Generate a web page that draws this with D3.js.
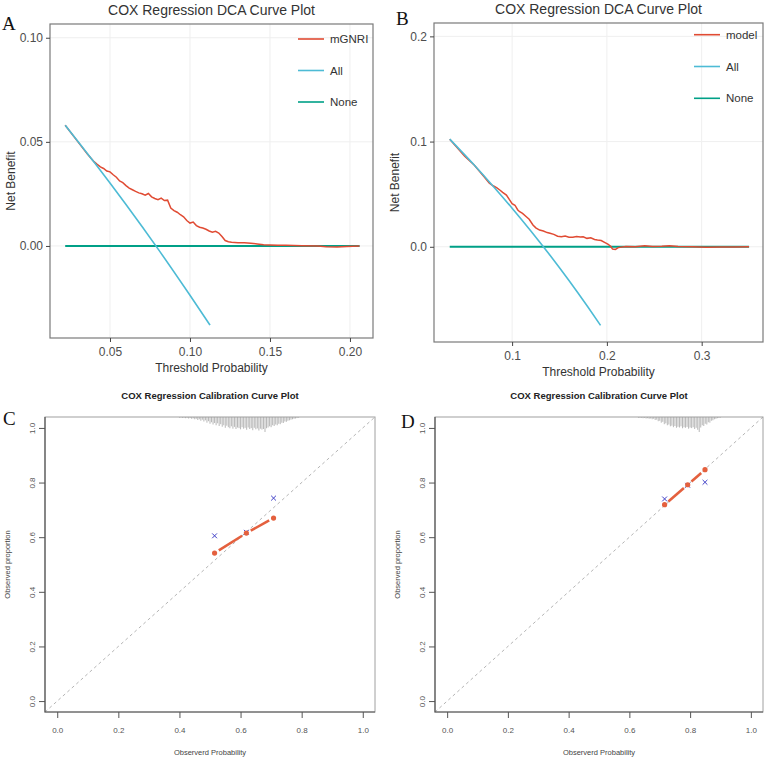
<!DOCTYPE html>
<html>
<head>
<meta charset="utf-8">
<script src="https://cdn.jsdelivr.net/npm/d3@7"></script>
<style>
  body { margin: 0; background: #fff; }
  svg { display: block; font-family: "Liberation Sans", Arial, sans-serif; }
</style>
</head>
<body>
<svg id="chart" width="767" height="759"></svg>
<script>
// ---------- panel A : DCA, mGNRI ----------
var aThreshold = [0.022, 0.030, 0.036, 0.040, 0.042, 0.044, 0.046, 0.048, 0.050, 0.052, 0.054, 0.056, 0.058, 0.060,
  0.062, 0.064, 0.066, 0.068, 0.070, 0.072, 0.074, 0.076, 0.078, 0.080, 0.082, 0.084, 0.086, 0.088, 0.090, 0.092,
  0.094, 0.096, 0.098, 0.100, 0.102, 0.104, 0.106, 0.108, 0.110, 0.112, 0.114, 0.116, 0.118, 0.120, 0.122, 0.124,
  0.126, 0.130, 0.134, 0.138, 0.142, 0.146, 0.150, 0.155, 0.160, 0.170, 0.180, 0.185, 0.192, 0.198, 0.206]
var aModel = [0.0580, 0.0500, 0.0440, 0.0405, 0.0392, 0.0380, 0.0372, 0.0360, 0.0356, 0.0342, 0.0330, 0.0312, 0.0304, 0.0290,
  0.0278, 0.0270, 0.0262, 0.0255, 0.0251, 0.0244, 0.0252, 0.0236, 0.0228, 0.0222, 0.0230, 0.0218, 0.0220, 0.0182, 0.0170, 0.0162,
  0.0150, 0.0140, 0.0122, 0.0110, 0.0115, 0.0098, 0.0090, 0.0086, 0.0080, 0.0072, 0.0066, 0.0070, 0.0062, 0.0045, 0.0026, 0.0020,
  0.0018, 0.0016, 0.0015, 0.0013, 0.0010, 0.0006, 0.0005, 0.0004, 0.0003, 0.0001, 0.0000, -0.0004, -0.0005, -0.0002, 0.0000]
var aAllThreshold = [0.022, 0.04, 0.06, 0.08, 0.10, 0.1125]
var aAll = [0.058, 0.0403, 0.0199, -0.0014, -0.0237, -0.038]
var aNoneRange = [0.022, 0.206]
var aXTicks = [0.05, 0.10, 0.15, 0.20]
var aYTicks = [0.00, 0.05, 0.10]

// ---------- panel B : DCA, model ----------
var bThreshold = [0.0342, 0.050, 0.060, 0.070, 0.076, 0.080, 0.084, 0.087, 0.090, 0.094, 0.097, 0.100, 0.103, 0.106,
  0.108, 0.111, 0.115, 0.118, 0.122, 0.125, 0.129, 0.133, 0.137, 0.140, 0.144, 0.148, 0.152, 0.156, 0.160, 0.164,
  0.168, 0.172, 0.175, 0.179, 0.183, 0.187, 0.190, 0.194, 0.198, 0.201, 0.204, 0.206, 0.209, 0.212, 0.220, 0.230,
  0.240, 0.248, 0.258, 0.266, 0.275, 0.290, 0.305, 0.320, 0.335, 0.350]
var bModel = [0.1023, 0.0860, 0.0777, 0.0670, 0.0604, 0.0580, 0.0560, 0.0540, 0.0518, 0.0492, 0.0450, 0.0410, 0.0395, 0.0350,
  0.0333, 0.0318, 0.0286, 0.0262, 0.0207, 0.0180, 0.0159, 0.0150, 0.0135, 0.0128, 0.0118, 0.0100, 0.0095, 0.0102, 0.0090, 0.0090,
  0.0098, 0.0092, 0.0095, 0.0080, 0.0085, 0.0070, 0.0064, 0.0060, 0.0040, 0.0025, 0.0005, -0.0022, -0.0025, -0.0008, 0.0002, 0.0000,
  0.0010, 0.0002, 0.0004, 0.0010, 0.0003, 0.0000, -0.0004, -0.0003, -0.0002, 0.0000]
var bAllThreshold = [0.0342, 0.06, 0.08, 0.10, 0.12, 0.14, 0.16, 0.18, 0.1933]
var bAll = [0.1023, 0.0777, 0.0576, 0.0367, 0.0148, -0.0081, -0.0321, -0.0573, -0.0747]
var bNoneRange = [0.0342, 0.350]
var bXTicks = [0.1, 0.2, 0.3]
var bYTicks = [0.0, 0.1, 0.2]

// ---------- panel C : calibration ----------
var cPredicted = [0.515, 0.619, 0.708]
var cObserved = [0.542, 0.615, 0.670]
var cCorrected = [0.605, 0.618, 0.743]
var cRugX = [0.400, 0.405, 0.410, 0.415, 0.420, 0.425, 0.430, 0.435, 0.440, 0.445, 0.450, 0.455, 0.460, 0.465, 0.470,
  0.475, 0.480, 0.485, 0.490, 0.495, 0.500, 0.505, 0.510, 0.515, 0.520, 0.525, 0.530, 0.535, 0.540, 0.545, 0.550,
  0.555, 0.560, 0.565, 0.570, 0.575, 0.580, 0.585, 0.590, 0.595, 0.600, 0.605, 0.610, 0.615, 0.620, 0.625, 0.630,
  0.635, 0.640, 0.645, 0.650, 0.655, 0.660, 0.665, 0.670, 0.675, 0.680, 0.685, 0.690, 0.695, 0.700, 0.705, 0.710,
  0.715, 0.720, 0.725, 0.730, 0.735, 0.740, 0.745, 0.750, 0.755, 0.760, 0.765, 0.770, 0.775, 0.780, 0.785, 0.790]
var cRugFreq = [.05, .04, .06, .05, .08, .06, .10, .07, .12, .09, .15, .12, .20, .15, .25,
  .18, .30, .22, .38, .28, .45, .35, .50, .40, .55, .42, .60, .48, .65, .55, .72,
  .58, .68, .75, .62, .78, .66, .80, .70, .74, .82, .68, .78, .72, .85, .70, .80,
  .74, .88, .72, .82, .76, .90, .78, .84, .80, 1.0, .75, .70, .62, .68, .55, .60,
  .50, .55, .45, .48, .38, .40, .30, .32, .25, .22, .18, .15, .12, .10, .07, .05]

// ---------- panel D : calibration ----------
var dPredicted = [0.716, 0.792, 0.849]
var dObserved = [0.719, 0.792, 0.847]
var dCorrected = [0.740, 0.790, 0.801]
var dRugX = [0.630, 0.635, 0.640, 0.645, 0.650, 0.655, 0.660, 0.665, 0.670, 0.675, 0.680, 0.685, 0.690, 0.695,
  0.700, 0.705, 0.710, 0.715, 0.720, 0.725, 0.730, 0.735, 0.740, 0.745, 0.750, 0.755, 0.760, 0.765, 0.770,
  0.775, 0.780, 0.785, 0.790, 0.795, 0.800, 0.805, 0.810, 0.815, 0.820, 0.825, 0.830, 0.835, 0.840, 0.845,
  0.850, 0.855, 0.860, 0.865, 0.870, 0.875, 0.880, 0.885, 0.890, 0.895, 0.900]
var dRugFreq = [.05, .06, .05, .08, .06, .10, .08, .12, .10, .15, .12, .20, .18, .28,
  .25, .38, .32, .48, .42, .55, .50, .62, .58, .68, .60, .72, .65, .70, .62,
  .75, .68, .72, .66, .78, .70, .74, .68, .80, .72, .85, 1.0, .70, .55, .60,
  .45, .50, .35, .38, .25, .22, .15, .12, .08, .06, .04]

var calTicks = [0, 0.2, 0.4, 0.6, 0.8, 1.0]

// npg-like colours
var colModel = "#E04B33", colAll = "#4DBBD5", colNone = "#00A087"

var svg = d3.select("#chart")
svg.append("rect").attr("width", 767).attr("height", 759).attr("fill", "#fff")

function drawDca(p) {
  var x = d3.scaleLinear().domain(p.xDomain).range([p.box[0], p.box[2]])
  var y = d3.scaleLinear().domain(p.yDomain).range([p.box[3], p.box[1]])
  var g = svg.append("g")

  // grid
  g.selectAll(".vg").data(p.xTicks).join("line")
    .attr("x1", d => x(d)).attr("x2", d => x(d))
    .attr("y1", p.box[1]).attr("y2", p.box[3])
    .attr("stroke", "#efefef")
  g.selectAll(".hg").data(p.yTicks).join("line")
    .attr("y1", d => y(d)).attr("y2", d => y(d))
    .attr("x1", p.box[0]).attr("x2", p.box[2])
    .attr("stroke", "#efefef")

  // lines
  var line = d3.line().x(d => x(d[0])).y(d => y(d[1]))
  g.append("path").datum(p.noneRange.map(t => [t, 0]))
    .attr("d", line).attr("fill", "none").attr("stroke", colNone).attr("stroke-width", 2)
  g.append("path").datum(d3.zip(p.threshold, p.model))
    .attr("d", line).attr("fill", "none").attr("stroke", colModel).attr("stroke-width", 1.5)
  g.append("path").datum(d3.zip(p.allThreshold, p.all))
    .attr("d", line.curve(d3.curveMonotoneX)).attr("fill", "none").attr("stroke", colAll).attr("stroke-width", 1.6)

  // frame
  g.append("rect")
    .attr("x", p.box[0]).attr("y", p.box[1])
    .attr("width", p.box[2] - p.box[0]).attr("height", p.box[3] - p.box[1])
    .attr("fill", "none").attr("stroke", "#7a7a7a").attr("stroke-width", 1.2)

  // axes
  var ax = g.append("g").attr("transform", "translate(0," + p.box[3] + ")")
    .call(d3.axisBottom(x).tickValues(p.xTicks).tickFormat(d3.format(p.fmt)).tickSize(4).tickPadding(5).tickSizeOuter(0))
  var ay = g.append("g").attr("transform", "translate(" + p.box[0] + ",0)")
    .call(d3.axisLeft(y).tickValues(p.yTicks).tickFormat(d3.format(p.fmt)).tickSize(4).tickPadding(3).tickSizeOuter(0))
  ;[ax, ay].forEach(function(a) {
    a.select(".domain").remove()
    a.selectAll("line").attr("stroke", "#444")
    a.selectAll("text").attr("fill", "#4d4d4d").style("font-size", "12px").style("font-family", "Liberation Sans, Arial, sans-serif")
  })

  // titles
  var cx = (p.box[0] + p.box[2]) / 2
  g.append("text").attr("x", cx).attr("y", p.box[1] - 9)
    .attr("text-anchor", "middle").attr("fill", "#333").style("font-size", "14px")
    .text("COX Regression DCA Curve Plot")
  g.append("text").attr("x", cx).attr("y", p.box[3] + 34)
    .attr("text-anchor", "middle").attr("fill", "#333").style("font-size", "12px")
    .text("Threshold Probability")
  g.append("text")
    .attr("transform", "translate(" + (p.box[0] - 35) + "," + ((p.box[1] + p.box[3]) / 2) + ") rotate(-90)")
    .attr("text-anchor", "middle").attr("fill", "#333").style("font-size", "12px")
    .text("Net Benefit")

  // legend
  var keys = [p.modelName, "All", "None"]
  var cols = [colModel, colAll, colNone]
  var leg = g.selectAll(".leg").data(keys).join("g")
    .attr("transform", (d, i) => "translate(" + p.legend[0] + "," + (p.legend[1] + i * p.legend[2]) + ")")
  leg.append("line").attr("x1", 0).attr("x2", 26).attr("stroke", (d, i) => cols[i]).attr("stroke-width", 1.6)
  leg.append("text").attr("x", 32).attr("dy", "0.35em").attr("fill", "#333").style("font-size", "11.5px").text(d => d)

  // panel letter
  g.append("text").attr("x", p.letter[0]).attr("y", p.letter[1])
    .style("font-family", "Liberation Serif, Times New Roman, serif").style("font-size", "19px").attr("fill", "#111")
    .text(p.letterText)
}

function drawCal(p) {
  var x = d3.scaleLinear().domain([-0.04, 1.04]).range([p.box[0], p.box[2]])
  var y = d3.scaleLinear().domain([-0.04, 1.04]).range([p.box[3], p.box[1]])
  var g = svg.append("g")

  // ideal line
  g.append("line")
    .attr("x1", x(-0.04)).attr("y1", y(-0.04)).attr("x2", x(1.04)).attr("y2", y(1.04))
    .attr("stroke", "#b5b5b5").attr("stroke-dasharray", "3,3")

  // rug of predicted risk
  var len = d3.scaleLinear().domain([0, 1]).range([0, 15])
  g.selectAll(".rug").data(d3.zip(p.rugX, p.rugFreq)).join("line")
    .attr("x1", d => x(d[0])).attr("x2", d => x(d[0]))
    .attr("y1", p.box[1]).attr("y2", d => p.box[1] + len(d[1]))
    .attr("stroke", "#9a9a9a").attr("stroke-width", 0.7)

  // frame
  g.append("rect")
    .attr("x", p.box[0]).attr("y", p.box[1])
    .attr("width", p.box[2] - p.box[0]).attr("height", p.box[3] - p.box[1])
    .attr("fill", "none").attr("stroke", "#a0a0a0")
  g.append("path")
    .attr("d", "M" + p.box[0] + "," + p.box[1] + "V" + p.box[3] + "H" + p.box[2])
    .attr("fill", "none").attr("stroke", "#555").attr("stroke-width", 1.2)

  // bias-corrected estimates
  g.selectAll(".bc").data(d3.zip(p.pred, p.corr)).join("path")
    .attr("d", function(d) {
      var px = x(d[0]), py = y(d[1]), s = 2.4
      return "M" + (px - s) + "," + (py - s) + "L" + (px + s) + "," + (py + s) +
        "M" + (px - s) + "," + (py + s) + "L" + (px + s) + "," + (py - s)
    })
    .attr("stroke", "#4040c8").attr("stroke-width", 1)

  // observed line with gaps (type = "b")
  var pts = d3.zip(p.pred, p.obs).map(d => [x(d[0]), y(d[1])])
  var segs = d3.pairs(pts).map(function(s) {
    var dx = s[1][0] - s[0][0], dy = s[1][1] - s[0][1], L = Math.hypot(dx, dy), k = 5 / L
    return [s[0][0] + dx * k, s[0][1] + dy * k, s[1][0] - dx * k, s[1][1] - dy * k]
  })
  g.selectAll(".seg").data(segs).join("line")
    .attr("x1", d => d[0]).attr("y1", d => d[1]).attr("x2", d => d[2]).attr("y2", d => d[3])
    .attr("stroke", "#E4603E").attr("stroke-width", 2.6)
  g.selectAll(".dot").data(pts).join("circle")
    .attr("cx", d => d[0]).attr("cy", d => d[1]).attr("r", 2.6).attr("fill", "#E4603E")

  // axes
  var ax = g.append("g").attr("transform", "translate(0," + p.box[3] + ")")
    .call(d3.axisBottom(x).tickValues(calTicks).tickFormat(d3.format(".1f")).tickSize(6).tickPadding(9).tickSizeOuter(0))
  var ay = g.append("g").attr("transform", "translate(" + p.box[0] + ",0)")
    .call(d3.axisLeft(y).tickValues(calTicks).tickFormat(d3.format(".1f")).tickSize(6).tickSizeOuter(0))
  ;[ax, ay].forEach(function(a) {
    a.select(".domain").remove()
    a.selectAll("line").attr("stroke", "#555")
    a.selectAll("text").attr("fill", "#555").style("font-size", "8px").style("font-family", "Liberation Sans, Arial, sans-serif")
  })
  ay.selectAll("text")
    .attr("x", null).attr("dy", null)
    .attr("transform", "translate(-13,0) rotate(-90)")
    .attr("text-anchor", "middle").attr("dominant-baseline", "central")

  var cx = (p.box[0] + p.box[2]) / 2
  g.append("text").attr("x", cx).attr("y", p.box[1] - 18)
    .attr("text-anchor", "middle").attr("fill", "#222").style("font-size", "9.5px").style("font-weight", "bold")
    .text("COX Regression Calibration Curve Plot")
  g.append("text").attr("x", cx).attr("y", p.box[3] + 43)
    .attr("text-anchor", "middle").attr("fill", "#444").style("font-size", "7.5px")
    .text("Observerd Probability")
  g.append("text")
    .attr("transform", "translate(" + (p.box[0] - 35) + "," + ((p.box[1] + p.box[3]) / 2) + ") rotate(-90)")
    .attr("text-anchor", "middle").attr("fill", "#444").style("font-size", "7.5px")
    .text("Observed proportion")

  g.append("text").attr("x", p.letter[0]).attr("y", p.letter[1])
    .style("font-family", "Liberation Serif, Times New Roman, serif").style("font-size", "19px").attr("fill", "#111")
    .text(p.letterText)
}

drawDca({
  box: [50, 24, 373, 338], xDomain: [0.0125, 0.2144], yDomain: [-0.0442, 0.1066],
  threshold: aThreshold, model: aModel, allThreshold: aAllThreshold, all: aAll, noneRange: aNoneRange,
  xTicks: aXTicks, yTicks: aYTicks, fmt: ".2f", modelName: "mGNRI",
  legend: [298, 39, 31.5], letter: [2, 30], letterText: "A"
})
drawDca({
  box: [434, 23, 763, 342], xDomain: [0.0176, 0.3647], yDomain: [-0.0905, 0.2127],
  threshold: bThreshold, model: bModel, allThreshold: bAllThreshold, all: bAll, noneRange: bNoneRange,
  xTicks: bXTicks, yTicks: bYTicks, fmt: ".1f", modelName: "model",
  legend: [694, 34.7, 31.8], letter: [396, 25], letterText: "B"
})
drawCal({
  box: [45, 417, 375, 712], pred: cPredicted, obs: cObserved, corr: cCorrected,
  rugX: cRugX, rugFreq: cRugFreq, letter: [3, 425], letterText: "C"
})
drawCal({
  box: [435, 417, 763, 712], pred: dPredicted, obs: dObserved, corr: dCorrected,
  rugX: dRugX, rugFreq: dRugFreq, letter: [401, 428], letterText: "D"
})
</script>
</body>
</html>
